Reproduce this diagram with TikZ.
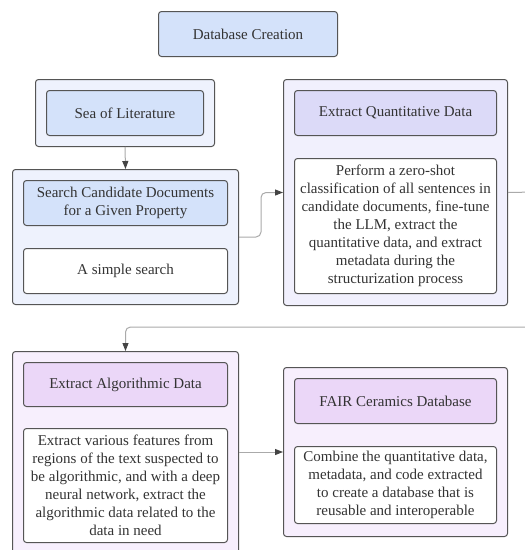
\documentclass[tikz,border=0pt]{standalone}
\usepackage{fontspec}
\setmainfont{Liberation Serif}
\usetikzlibrary{arrows.meta}
\definecolor{txt}{HTML}{333333}
\definecolor{bord}{HTML}{555555}
\definecolor{hblue}{HTML}{D4E2FA}
\definecolor{oblue}{HTML}{EEF2FD}
\definecolor{hlav}{HTML}{DCDAF8}
\definecolor{olav}{HTML}{F1F0FD}
\definecolor{hpur}{HTML}{EBD7F8}
\definecolor{opur}{HTML}{F7EFFD}
\definecolor{lnk}{HTML}{AAAAAA}
\tikzset{
  boxbase/.style={draw=bord, line width=1pt, rounded corners=3pt, anchor=north west,
    inner sep=0pt, text=txt, align=center,
    font=\fontsize{15}{18}\selectfont},
  conn/.style={draw=lnk, line width=1pt, rounded corners=5pt,
    -{Triangle[length=8pt,width=6pt,color=bord!80!black]}},
  plainln/.style={draw=lnk, line width=1pt, rounded corners=5pt}
}
\newcommand{\bx}[6]{%
  \node[boxbase, fill=#6, minimum width=#4pt, minimum height=#5pt] (#1) at #2 {#3};}
\begin{document}
\begin{tikzpicture}[x=1pt,y=-1pt]
\clip (0,0) rectangle (525,550);
\fill[white] (0,0) rectangle (525,550);
% top
\bx{top}{(158,11)}{Database Creation}{179}{45}{hblue}
% left column top
\bx{o1}{(35,79)}{}{179}{67}{oblue}
\bx{h1}{(46,90)}{Sea of Literature}{157}{45}{hblue}
\bx{o2}{(12,169)}{}{226}{135}{oblue}
\bx{h2}{(23,180)}{Search Candidate Documents\\for a Given Property}{204}{45}{hblue}
\bx{t2}{(23,248)}{A simple search}{204}{45}{white}
% right column top
\bx{o3}{(283,79)}{}{224}{226}{olav}
\bx{h3}{(294,90)}{Extract Quantitative Data}{202}{45}{hlav}
\bx{t3}{(294,158)}{Perform a zero-shot\\classification of all sentences in\\candidate documents, fine-tune\\the LLM, extract the\\quantitative data, and extract\\metadata during the\\structurization process}{202}{135}{white}
% bottom left
\bx{o4}{(12,351)}{}{226}{230}{opur}
\bx{h4}{(23,362)}{Extract Algorithmic Data}{204}{44}{hpur}
\bx{t4}{(23,428)}{Extract various features from\\regions of the text suspected to\\be algorithmic, and with a deep\\neural network, extract the\\algorithmic data related to the\\data in need}{204}{114}{white}
% bottom right
\bx{o5}{(283,367)}{}{224}{169}{opur}
\bx{h5}{(294,378)}{FAIR Ceramics Database}{202}{45}{hpur}
\bx{t5}{(294,446)}{Combine the quantitative data,\\metadata, and code extracted\\to create a database that is\\reusable and interoperable}{202}{77}{white}
% connectors
\coordinate (offR) at (535,192);
\coordinate (backR) at (535,327);
\draw[conn] (o1.south) -- (o2.north);
\draw[conn] (o2.east) -- ++(22,0) |- (o3.west);
\draw[plainln] (o3.east) -- (offR);
\draw[conn] (backR) -| (o4.north);
\draw[conn] (o4.east |- o5.west) -- (o5.west);
\end{tikzpicture}
\end{document}
